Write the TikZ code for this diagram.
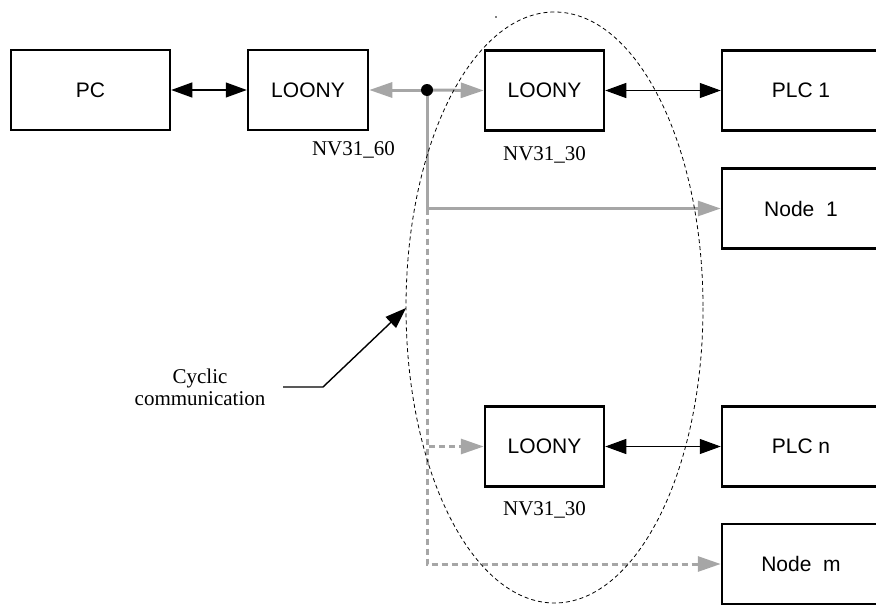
\documentclass[tikz,border=0pt]{standalone}
\usepackage{fontspec}
\setmainfont{Liberation Serif}
\setsansfont{Liberation Sans}
\usetikzlibrary{arrows.meta}
\definecolor{linkgray}{RGB}{166,166,166}
\begin{document}
\begin{tikzpicture}[x=1pt,y=-1pt,
  box/.style={draw, line width=2.5pt, minimum height=80pt, inner sep=0pt,
              font=\sffamily\fontsize{21}{25}\selectfont},
  tag/.style={font=\rmfamily\fontsize{21}{25}\selectfont, inner sep=0pt},
  blk/.style={line width=1.1pt, {Triangle[length=21pt,width=15pt]}-{Triangle[length=21pt,width=15pt]}},
  gry/.style={draw=linkgray, line width=3pt, -{Triangle[length=23pt,width=15pt]}},
  gryd/.style={gry, dash pattern=on 6pt off 4pt},
  ring/.style={line width=0.8pt, dash pattern=on 4pt off 3pt},
  pointer/.style={line width=1.4pt, -{Triangle[length=21pt,width=15pt]}}]
\useasboundingbox (0,0) rectangle (876,605);
\clip (0,0) rectangle (876,605);

% device boxes
\node[box, minimum width=159pt] (pc) at (90.5,90)  {PC};
\node[box, minimum width=120pt] (l1) at (308,90)   {LOONY};
\node[box, minimum width=119pt] (l2) at (544.5,90.5) {LOONY};
\node[box, minimum width=158pt] (p1) at (801,90.5) {PLC 1};
\node[box, minimum width=158pt] (n1) at (801,208.5) {Node\ \ 1};
\node[box, minimum width=119pt] (l3) at (544.5,446.5) {LOONY};
\node[box, minimum width=158pt] (pn) at (801,446.5) {PLC n};
\node[box, minimum width=158pt] (nm) at (801,564)  {Node\ \ m};

% labels
\node[tag] (t60) at (353.5,150) {NV31\_60};
\node[tag] (t30a) at (544.5,155) {NV31\_30};
\node[tag] (t30b) at (544.5,510) {NV31\_30};
\node[tag, align=center] (cyc) at (200,387.5) {Cyclic\\[-3pt]communication};

% point-to-point links
\draw[blk] (pc.east) -- (l1.west);
\draw[blk] (l2.east) -- (p1.west);
\draw[blk] (l3.east) -- (pn.west);

% broadcast links from the hub
\coordinate (hub) at (427,90);
\coordinate (split) at (427,208.5);
\draw[gryd] (split) |- (l3.west);
\draw[gryd] (split) |- (nm.west);
\draw[gry] (hub) -- (l1.east);
\draw[gry] (hub) -- (l2.west);
\draw[gry] (hub) |- (n1.west);
\fill (hub) circle (6);

% cyclic communication region
\coordinate (ringc) at (554.5,307.5);
\draw[ring] (ringc) ellipse [x radius=148.5, y radius=295.5];
\fill (496,17) circle (0.8);

% annotation pointer
\coordinate (c0) at (283,387);
\coordinate (c1) at (323,387);
\coordinate (tip) at (406,308);
\draw[pointer] (c0) -- (c1) -- (tip);
\end{tikzpicture}
\end{document}
